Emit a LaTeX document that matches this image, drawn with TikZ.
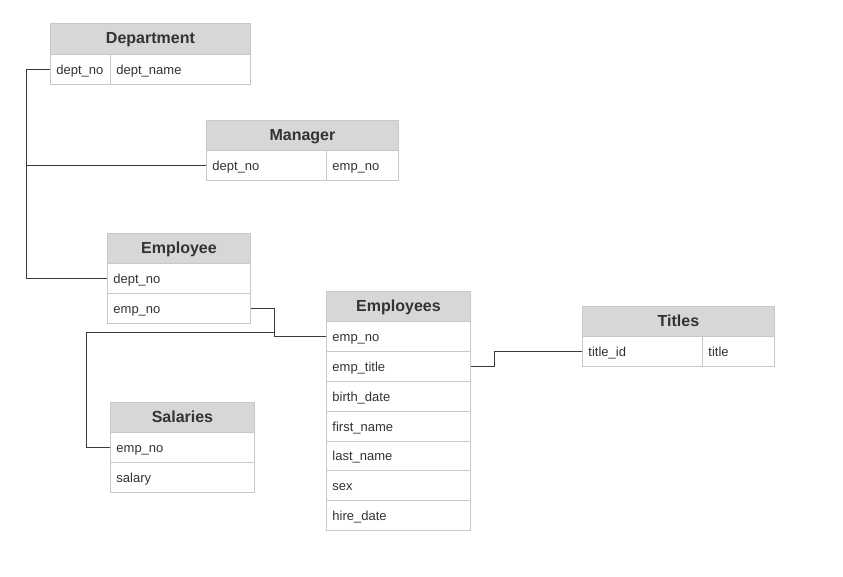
\documentclass[tikz,border=0pt]{standalone}
\usepackage{fontspec}
\setmainfont{Liberation Sans}
\definecolor{bcol}{HTML}{C8C8C8}
\definecolor{hfill}{HTML}{D7D7D7}
\definecolor{tcol}{HTML}{333333}
\definecolor{lcol}{HTML}{3A3A3A}
\tikzset{
  hdr/.style={draw=bcol, line width=0.9pt, fill=hfill, anchor=north west, minimum width=#1, minimum height=31pt, inner sep=0pt, text height=12.5pt, text depth=2.5pt, text=tcol, font=\fontsize{16}{19}\selectfont\bfseries},
  cell/.style={draw=bcol, line width=0.9pt, fill=white, anchor=north west, minimum height=30pt, inner xsep=6pt, inner ysep=0pt, text width=#1, text height=11pt, text depth=1.3pt, align=left, text=tcol, font=\fontsize{13}{15}\selectfont},
  conn/.style={draw=lcol, line width=1pt}
}
\begin{document}
\begin{tikzpicture}[x=1pt,y=-1pt]
\useasboundingbox (0,0) rectangle (843,576);
% Department
\node[hdr=200pt] (dept-h) at (50,23) {Department};
\node[cell=48pt] (dept-no) at (50,54) {dept\_no};
\node[cell=128pt] (dept-name) at (110,54) {dept\_name};
% Manager
\node[hdr=192pt] (mgr-h) at (206,120) {Manager};
\node[cell=108pt] (mgr-dept) at (206,150) {dept\_no};
\node[cell=60pt] (mgr-emp) at (326,150) {emp\_no};
% Employee
\node[hdr=143pt] (emp-h) at (107,233) {Employee};
\node[cell=131pt] (emp-dept) at (107,263) {dept\_no};
\node[cell=131pt] (emp-no) at (107,293) {emp\_no};
% Employees
\node[hdr=144pt] (emps-h) at (326,291) {Employees};
\node[cell=132pt] (emps-no) at (326,321) {emp\_no};
\node[cell=132pt] (emps-title) at (326,351) {emp\_title};
\node[cell=132pt] (emps-birth) at (326,381) {birth\_date};
\node[cell=132pt] (emps-first) at (326,411) {first\_name};
\node[cell=132pt] (emps-last) at (326,440.5) {last\_name};
\node[cell=132pt] (emps-sex) at (326,470) {sex};
\node[cell=132pt] (emps-hire) at (326,500) {hire\_date};
% Titles
\node[hdr=192pt] (tit-h) at (582,306) {Titles};
\node[cell=108pt] (tit-id) at (582,336) {title\_id};
\node[cell=60pt] (tit-title) at (702,336) {title};
% Salaries
\node[hdr=144pt] (sal-h) at (110,402) {Salaries};
\node[cell=132pt] (sal-no) at (110,432) {emp\_no};
\node[cell=132pt] (sal-salary) at (110,462) {salary};
% bus coordinates
\coordinate (busL) at (26,0);
\coordinate (busM) at (274,0);
\coordinate (busT) at (494,0);
\coordinate (salcorner) at (86,332);
% connectors
\draw[conn] (dept-no.west) -| (busL |- emp-dept.west) -- (emp-dept.west);
\draw[conn] (busL |- mgr-dept.west) -- (mgr-dept.west);
\draw[conn] (emp-no.east) -| (busM |- emps-no.west) -- (emps-no.west);
\draw[conn] (sal-no.west) -| (salcorner) -- (salcorner -| busM);
\draw[conn] (emps-title.east) -| (busT |- tit-id.west) -- (tit-id.west);
\end{tikzpicture}
\end{document}
